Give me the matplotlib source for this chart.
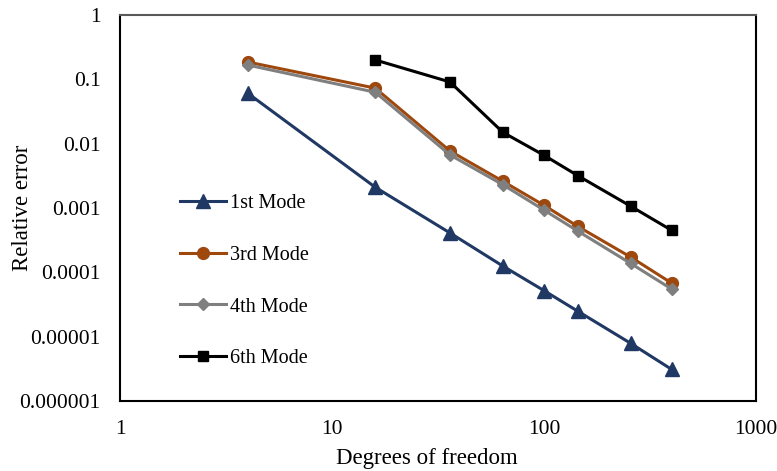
import matplotlib
matplotlib.use('Agg')
import matplotlib.pyplot as plt
from matplotlib.ticker import FixedLocator, FixedFormatter, NullLocator

# ---------- DATA ----------
dof = [4, 16, 36, 64, 100, 144, 256, 400]
dof_6th = [16, 36, 64, 100, 144, 256, 400]

err_1st = [0.061, 0.0021, 0.00041, 0.000125, 0.000052, 0.000025, 0.0000079, 0.0000031]
err_3rd = [0.186, 0.073, 0.0077, 0.0026, 0.0011, 0.00052, 0.000173, 0.000068]
err_4th = [0.167, 0.063, 0.0067, 0.0023, 0.00093, 0.00044, 0.000138, 0.000055]
err_6th = [0.20, 0.091, 0.015, 0.0066, 0.0032, 0.00107, 0.00045]

x_ticks = [1, 10, 100, 1000]
x_labels = ['1', '10', '100', '1000']
y_ticks = [1e-6, 1e-5, 1e-4, 1e-3, 1e-2, 1e-1, 1]
y_labels = ['0.000001', '0.00001', '0.0001', '0.001', '0.01', '0.1', '1']
# ---------------------------

plt.rcParams['font.family'] = ['Liberation Serif', 'DejaVu Serif']

fig = plt.figure(figsize=(7.77, 4.71), dpi=100)
ax = fig.add_axes([120 / 777, 1 - 401 / 471, (756 - 120) / 777, (401 - 15) / 471])

lw = 2.2
ax.plot(dof, err_1st, color='#203864', marker='^', markersize=9.5, linewidth=lw, label='1st Mode')
ax.plot(dof, err_3rd, color='#9E480E', marker='o', markersize=8.5, linewidth=lw, label='3rd Mode')
ax.plot(dof, err_4th, color='#7F7F7F', marker='D', markersize=6.5, linewidth=lw, label='4th Mode')
ax.plot(dof_6th, err_6th, color='#000000', marker='s', markersize=7.5, linewidth=lw, label='6th Mode')

ax.set_xscale('log')
ax.set_yscale('log')
ax.set_xlim(1, 1000)
ax.set_ylim(1e-6, 1)

ax.xaxis.set_major_locator(FixedLocator(x_ticks))
ax.xaxis.set_major_formatter(FixedFormatter(x_labels))
ax.yaxis.set_major_locator(FixedLocator(y_ticks))
ax.yaxis.set_major_formatter(FixedFormatter(y_labels))
ax.xaxis.set_minor_locator(NullLocator())
ax.yaxis.set_minor_locator(NullLocator())
ax.tick_params(length=0, labelsize=15.5, colors='#000000')
ax.tick_params(axis='x', pad=14)
ax.tick_params(axis='y', pad=14)

for side in ['left', 'bottom', 'right']:
    ax.spines[side].set_color('black')
    ax.spines[side].set_linewidth(1.5)
ax.spines['top'].set_color('#595959')
ax.spines['top'].set_linewidth(1.5)

ax.set_xlabel('Degrees of freedom', fontsize=16.5, labelpad=6.5)
ax.xaxis.label.set_x((427 - 120) / 636)  # label is a bit left of centre in the reference
ax.set_ylabel('Relative error', fontsize=16.5)
# the y label sits over the left end of the tick labels, as in the reference
ax.yaxis.set_label_coords((33 - 120) / 636, 0.5)

ax.legend(loc='upper left', bbox_to_anchor=(180 / 777, 1 - 194 / 471),
          bbox_transform=fig.transFigure, frameon=False, fontsize=14.5,
          borderpad=0, borderaxespad=0, labelspacing=1.62,
          handlelength=2.3, handletextpad=0.2)

plt.savefig('out.png', dpi=100)
